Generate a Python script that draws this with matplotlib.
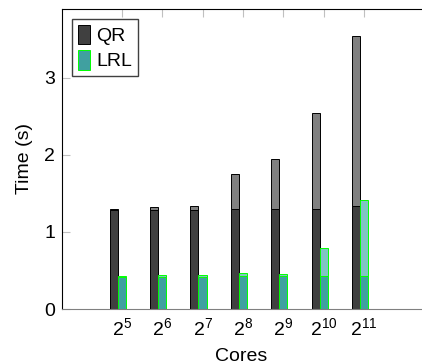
import matplotlib
matplotlib.use("Agg")
import matplotlib.pyplot as plt

plt.rcParams['font.family'] = ['Liberation Sans', 'DejaVu Sans']
plt.rcParams['mathtext.fontset'] = 'custom'
plt.rcParams['mathtext.rm'] = 'Liberation Sans'
plt.rcParams['mathtext.it'] = 'Liberation Sans'

# Data (log2 of core count)
exponents = [5, 6, 7, 8, 9, 10, 11]
qr_base = [1.28, 1.28, 1.28, 1.30, 1.30, 1.30, 1.34]
qr_total = [1.30, 1.32, 1.33, 1.75, 1.95, 2.54, 3.54]
lrl_base = [0.42, 0.42, 0.42, 0.43, 0.43, 0.43, 0.43]
lrl_total = [0.43, 0.44, 0.44, 0.47, 0.46, 0.785, 1.41]

qr_extra = [t - b for t, b in zip(qr_total, qr_base)]
lrl_extra = [t - b for t, b in zip(lrl_total, lrl_base)]

w = 0.2
fs = 14
fig = plt.figure(figsize=(4.22, 3.64), dpi=100)
ax = fig.add_axes([62 / 422, 55 / 364, 359 / 422, 300 / 364])

qr_x = [e - w for e in exponents]
ax.bar(qr_x, qr_base, w, color='#404040', edgecolor='black', linewidth=0.7, label='QR')
ax.bar(qr_x, qr_extra, w, bottom=qr_base, color='#808080', edgecolor='black', linewidth=0.7)
ax.bar(exponents, lrl_base, w, color='#40a0a0', edgecolor='#00ff00', linewidth=0.7, label='LRL')
ax.bar(exponents, lrl_extra, w, bottom=lrl_base, color='#80c4c4', edgecolor='#00ff00', linewidth=0.7)

ax.set_xlim(3.52, 12.41)
ax.set_ylim(0, 3.89)
ax.set_xticks(exponents)
ax.set_xticklabels([rf'$2^{{{e}}}$' for e in exponents], fontsize=fs)
ax.set_yticks([0, 1, 2, 3])
ax.tick_params(axis='y', labelsize=fs, direction='in', length=6, color='#c0c0c0', left=True, right=False, pad=5)
ax.tick_params(axis='x', direction='in', length=6, color='#c0c0c0', bottom=False, top=True, pad=6)
ax.set_xlabel('Cores', fontsize=fs, labelpad=6)
ax.set_ylabel('Time (s)', fontsize=fs, labelpad=8)
ax.spines['bottom'].set_color('#808080')
ax.spines['right'].set_visible(False)

ax.legend(loc='upper left', fontsize=fs, frameon=True, fancybox=False, edgecolor='#404040',
          handlelength=0.65, handleheight=1.2, handletextpad=0.3, borderpad=0.3,
          labelspacing=0.25, borderaxespad=0.5, framealpha=1)

fig.savefig('out.png', dpi=100)
